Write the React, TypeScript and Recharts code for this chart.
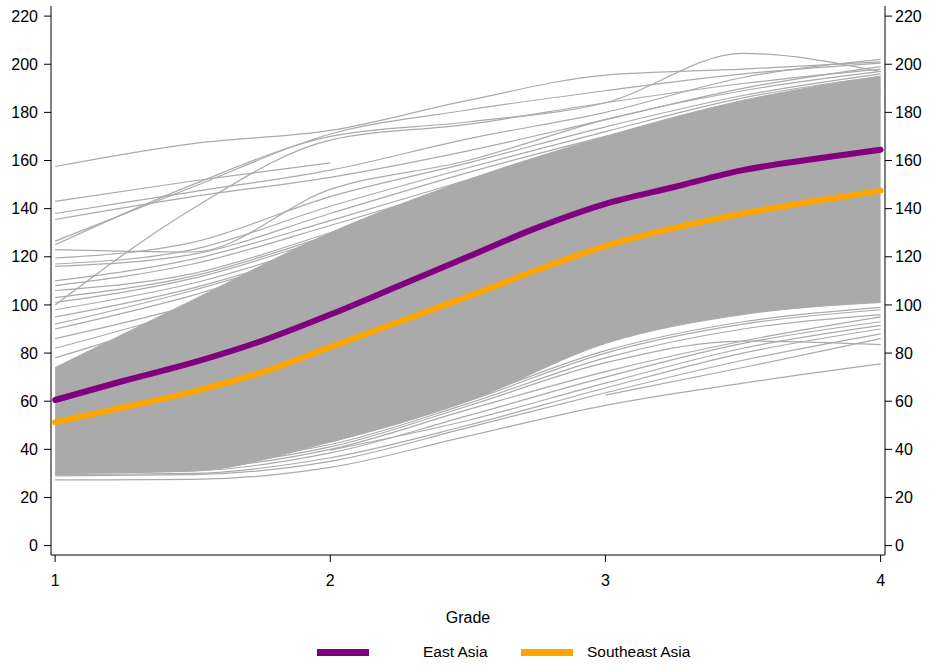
import React from 'react'
import {
  ComposedChart,
  Line,
  Area,
  XAxis,
  YAxis,
  Legend,
} from 'recharts'

const FONT = '"Liberation Sans", Arial, sans-serif'
const GRAY = '#aaaaaa'

// grade grids
const GRADES = [1, 1.5, 2, 2.5, 3, 3.5, 4]
const FINE_GRADES = [1, 1.25, 1.5, 1.75, 2, 2.25, 2.5, 2.75, 3, 3.25, 3.5, 3.75, 4]

const Y_TICKS = [0, 20, 40, 60, 80, 100, 120, 140, 160, 180, 200, 220]
const X_TICKS = [1, 2, 3, 4]

// region averages (on FINE_GRADES)
const EAST_ASIA = [60.5, 68.5, 76, 85, 96, 108, 120, 132, 142, 149, 156, 160.5, 164.5]
const SOUTHEAST_ASIA = [51.3, 57.5, 64, 72, 82.5, 93, 103.5, 114.5, 124.5, 132, 138, 143, 147.5]

// where the individual trajectories are packed solid (on GRADES)
const BAND_LOW = [30, 31, 43, 60, 84, 96, 101]
const BAND_HIGH = [74, 102, 130, 152, 170, 185, 195]

// trajectories that stand out from the dense band (on GRADES, null = not observed)
const UPPER_PATHS: (number | null)[][] = [
  [157.5, 167, 172.5, 185, 195.5, 198, 201],
  [125, 150, 170, 176, 184, 204.5, 197],
  [126.5, 149, 171, 181, 189, 196, 200.5],
  [143, 151.5, 159, null, null, null, null],
  [138, 147, 156, 169, 180, 194.5, 202],
  [135.5, 145, 153, 164, 177, 190, 199],
  [100, 140, 168.5, 175, 184, 192, 198],
  [123, 122, 148, 160, 177, 189, 197],
  [119.5, 126, 145, 159, 174, 187, 196],
  [117, 123, 141, 157, 172, 186, 195],
  [116, 121, 138, 155, 170, 184, 194],
  [110, 119, 135, 152, 169, 183, 193],
  [108, 117, 133, 150, 167, 181, 191],
  [106, 113, 130, 148, 166, 180, 190],
  [103, 112, 129, 147, 165, 180, 190],
  [101, 111, 128, 146, 164, 179, 189],
  [98, 109, 126, 145, 162, 177, 188],
  [95, 107, 124, 143, 160, 175, 187],
  [92, 106, 123, 141, 159, 174, 186],
  [90, 104, 122, 140, 158, 173, 185],
  [86, 100, 119, 138, 156, 171, 183],
  [82, 98, 117, 136, 155, 170, 182],
  [78, 96, 116, 135, 154, 169, 181],
]

const LOWER_PATHS: (number | null)[][] = [
  [27.3, 27.5, 32.5, 45.5, 58.3, 67.5, 75.5],
  [29, 29.5, 35, 49, 63.5, 77, 88],
  [29.5, 30, 36.5, 50, 65.5, 80, 90],
  [null, null, 39.7, 52, 67.5, 82, 91.5],
  [30, 31, 38.5, 54, 70, 84, 93],
  [30.5, 32, 40, 56.5, 72.3, 85, 95],
  [null, null, null, null, 62.5, 74, 86],
  [31, 33, 41, 58, 76, 85, 83.5],
  [32, 34.5, 42, 59, 78, 90, 96],
  [null, null, 43, 60, 80, 92, 98],
  [33, 36, 44, 61, 81, 93, 99],
]

const SERIES_NAMES = ['East Asia', 'Southeast Asia']
const SERIES_COLORS = ['#800080', '#ffa500']

const toPoints = (grades: number[], values: (number | null)[]) =>
  grades
    .map((g, i) => ({ g, v: values[i] }))
    .filter((p) => p.v !== null && p.v !== undefined)

const bandData = GRADES.map((g, i) => ({ g, range: [BAND_LOW[i], BAND_HIGH[i]] }))
const grayPaths = [...UPPER_PATHS, ...LOWER_PATHS].map((p) => toPoints(GRADES, p))
const mainPaths = [EAST_ASIA, SOUTHEAST_ASIA].map((p) => toPoints(FINE_GRADES, p))

const tickStyle = { fontSize: 16, fill: '#000', fontFamily: FONT }

function LegendContent() {
  const swatchLeft = [317, 521]
  const textLeft = [423, 587]
  return (
    <div style={{ position: 'relative', width: 929, height: 24, fontFamily: FONT, fontSize: 15.5, color: '#000' }}>
      {SERIES_NAMES.map((name, i) => (
        <React.Fragment key={name}>
          <div
            style={{
              position: 'absolute',
              left: swatchLeft[i],
              top: 9,
              width: 52,
              height: 7,
              background: SERIES_COLORS[i],
            }}
          />
          <span style={{ position: 'absolute', left: textLeft[i], top: 3, lineHeight: '18px', whiteSpace: 'nowrap' }}>
            {name}
          </span>
        </React.Fragment>
      ))}
    </div>
  )
}

export default function App() {
  return (
    <div style={{ position: 'absolute', left: 0, top: 0, width: 929, height: 667, background: '#fff' }}>
      <ComposedChart width={929} height={667} margin={{ top: 6, right: 0, left: 0, bottom: 44 }}>
        <XAxis
          dataKey="g"
          type="number"
          domain={[0.985, 4.016]}
          allowDataOverflow
          ticks={X_TICKS}
          tickSize={7}
          tickMargin={13}
          height={68}
          stroke="#000"
          tick={tickStyle}
          label={{ value: 'Grade', position: 'insideBottom', offset: 0, style: { fontSize: 16, fill: '#000', fontFamily: FONT } }}
        />
        <YAxis
          yAxisId="left"
          type="number"
          domain={[-3.9, 224.2]}
          allowDataOverflow
          ticks={Y_TICKS}
          width={51}
          tickSize={7}
          tickMargin={6}
          stroke="#000"
          tick={tickStyle}
        />
        <YAxis
          yAxisId="right"
          orientation="right"
          type="number"
          domain={[-3.9, 224.2]}
          allowDataOverflow
          ticks={Y_TICKS}
          width={44}
          tickSize={7}
          tickMargin={3}
          stroke="#000"
          tick={{ ...tickStyle, textAnchor: 'start' }}
        />
        <Area
          yAxisId="left"
          data={bandData}
          dataKey="range"
          type="monotone"
          stroke={GRAY}
          strokeWidth={1}
          fill={GRAY}
          fillOpacity={1}
          isAnimationActive={false}
          legendType="none"
          dot={false}
          activeDot={false}
        />
        {grayPaths.map((pts, i) => (
          <Line
            key={`gray-${i}`}
            yAxisId="left"
            data={pts}
            dataKey="v"
            type="monotone"
            stroke={GRAY}
            strokeWidth={1.2}
            dot={false}
            activeDot={false}
            isAnimationActive={false}
            legendType="none"
          />
        ))}
        {mainPaths.map((pts, i) => (
          <Line
            key={SERIES_NAMES[i]}
            name={SERIES_NAMES[i]}
            yAxisId="left"
            data={pts}
            dataKey="v"
            type="monotone"
            stroke={SERIES_COLORS[i]}
            strokeWidth={6}
            strokeLinecap="round"
            dot={false}
            activeDot={false}
            isAnimationActive={false}
          />
        ))}
        <Legend
          layout="horizontal"
          verticalAlign="middle"
          align="center"
          content={<LegendContent />}
          wrapperStyle={{ top: 640, left: 0, width: 929 }}
        />
      </ComposedChart>
    </div>
  )
}
